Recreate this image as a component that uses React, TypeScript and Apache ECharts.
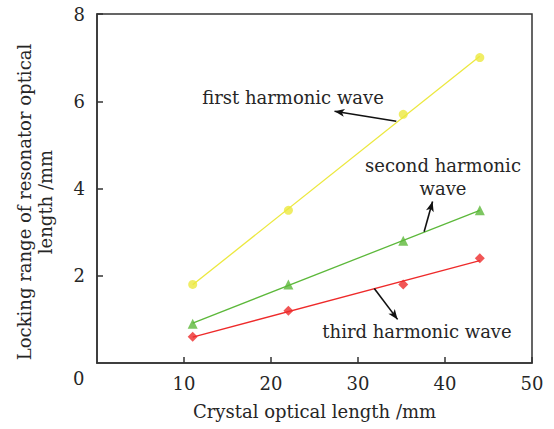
import React, { useEffect, useRef } from "react";
import * as echarts from "echarts";

const crystalLength = [11, 22, 35.2, 44];
const firstHarmonic = [1.8, 3.5, 5.7, 7.0];
const secondHarmonic = [0.9, 1.8, 2.8, 3.5];
const thirdHarmonic = [0.6, 1.2, 1.8, 2.4];
const xTicks = [0, 10, 20, 30, 40, 50];
const yTicks = [0, 2, 4, 6, 8];

const FONT = "DejaVu Serif";
const TXT = "#262626";
const FS = 18;

function fitLine(xs: number[], ys: number[]): number[][] {
  const n = xs.length;
  const mx = xs.reduce((a, b) => a + b, 0) / n;
  const my = ys.reduce((a, b) => a + b, 0) / n;
  let sxx = 0, sxy = 0;
  for (let i = 0; i < n; i++) {
    sxx += (xs[i] - mx) ** 2;
    sxy += (xs[i] - mx) * (ys[i] - my);
  }
  const k = sxy / sxx;
  const b = my - k * mx;
  const x0 = xs[0], x1 = xs[n - 1];
  return [[x0, k * x0 + b], [x1, k * x1 + b]];
}

const pts = (ys: number[]) => crystalLength.map((x, i) => [x, ys[i]]);

export default function App() {
  const ref = useRef<HTMLDivElement>(null);
  useEffect(() => {
    if (!ref.current) return;
    const chart = echarts.init(ref.current, null, { renderer: "svg" });
    const series: any[] = [];
    const defs = [
      { name: "first harmonic wave", ys: firstHarmonic, color: "#ece83e", symbol: "circle", size: 9 },
      { name: "second harmonic wave", ys: secondHarmonic, color: "#5cb83a", symbol: "triangle", size: 10 },
      { name: "third harmonic wave", ys: thirdHarmonic, color: "#ee2a2a", symbol: "diamond", size: 10 },
    ];
    defs.forEach((d) => {
      series.push({
        type: "line",
        name: d.name + " fit",
        data: fitLine(crystalLength, d.ys),
        showSymbol: false,
        symbol: "none",
        lineStyle: { color: d.color, width: 1.3 },
        silent: true,
      });
      series.push({
        type: "scatter",
        name: d.name,
        data: pts(d.ys),
        symbol: d.symbol,
        symbolSize: d.size,
        itemStyle: { color: d.color },
      });
    });
    const arrow = (from: number[], to: number[]) => [
      { coord: from, symbol: "none" },
      { coord: to, symbol: "arrow", symbolSize: [6, 10] },
    ];
    series.push({
      type: "line",
      name: "arrows",
      data: [],
      markLine: {
        silent: true,
        animation: false,
        label: { show: false },
        lineStyle: { color: "#111", width: 1.6, type: "solid" },
        symbol: ["none", "arrow"],
        data: [
          arrow([34.4, 5.54], [27.3, 5.77]),
          arrow([37.6, 3.01], [38.57, 3.70]),
          arrow([31.87, 1.71], [34.55, 1.0]),
        ],
      },
    });

    chart.setOption({
      animation: false,
      backgroundColor: "#fff",
      grid: {
        left: 97,
        right: 22,
        top: 14,
        bottom: 66,
        show: true,
        borderColor: "#333",
        borderWidth: 1.5,
        backgroundColor: "transparent",
      },
      xAxis: {
        type: "value",
        min: xTicks[0],
        max: xTicks[xTicks.length - 1],
        interval: 10,
        name: "Crystal optical length /mm",
        nameLocation: "middle",
        nameGap: 39,
        nameTextStyle: { fontFamily: FONT, fontSize: FS, color: TXT },
        axisLine: { lineStyle: { color: "#333", width: 1.5 } },
        axisTick: { inside: true, length: 6, lineStyle: { color: "#333", width: 1.5 } },
        axisLabel: {
          fontFamily: FONT,
          fontSize: FS,
          color: TXT,
          margin: 11,
          showMinLabel: false,
        },
        splitLine: { show: false },
      },
      yAxis: {
        type: "value",
        min: yTicks[0],
        max: yTicks[yTicks.length - 1],
        interval: 2,
        axisLine: { show: true, lineStyle: { color: "#333", width: 1.5 } },
        axisTick: { show: true, inside: true, length: 6, lineStyle: { color: "#333", width: 1.5 } },
        axisLabel: {
          fontFamily: FONT,
          fontSize: FS,
          color: TXT,
          margin: 12,
          showMinLabel: false,
        },
        splitLine: { show: false },
      },
      graphic: [
        {
          type: "text",
          left: 73,
          top: 369,
          style: { text: String(yTicks[0]), font: `${FS}px '${FONT}'`, fill: TXT },
        },
        {
          type: "text",
          x: 35,
          y: 202,
          rotation: Math.PI / 2,
          style: {
            text: "Locking range of resonator optical\nlength /mm",
            font: `${FS}px '${FONT}'`,
            fill: TXT,
            align: "center",
            verticalAlign: "middle",
            lineHeight: 21,
          },
        },
        {
          type: "text",
          x: 293,
          y: 97,
          style: {
            text: "first harmonic wave",
            font: `${FS}px '${FONT}'`,
            fill: TXT,
            align: "center",
            verticalAlign: "middle",
          },
        },
        {
          type: "text",
          x: 443,
          y: 177,
          style: {
            text: "second harmonic\nwave",
            font: `${FS}px '${FONT}'`,
            fill: TXT,
            align: "center",
            verticalAlign: "middle",
            lineHeight: 23,
          },
        },
        {
          type: "text",
          x: 417,
          y: 331,
          style: {
            text: "third harmonic wave",
            font: `${FS}px '${FONT}'`,
            fill: TXT,
            align: "center",
            verticalAlign: "middle",
          },
        },
      ],
      series,
    });
    return () => chart.dispose();
  }, []);
  return <div ref={ref} style={{ width: 554, height: 429, position: "absolute", left: 0, top: 0 }} />;
}
